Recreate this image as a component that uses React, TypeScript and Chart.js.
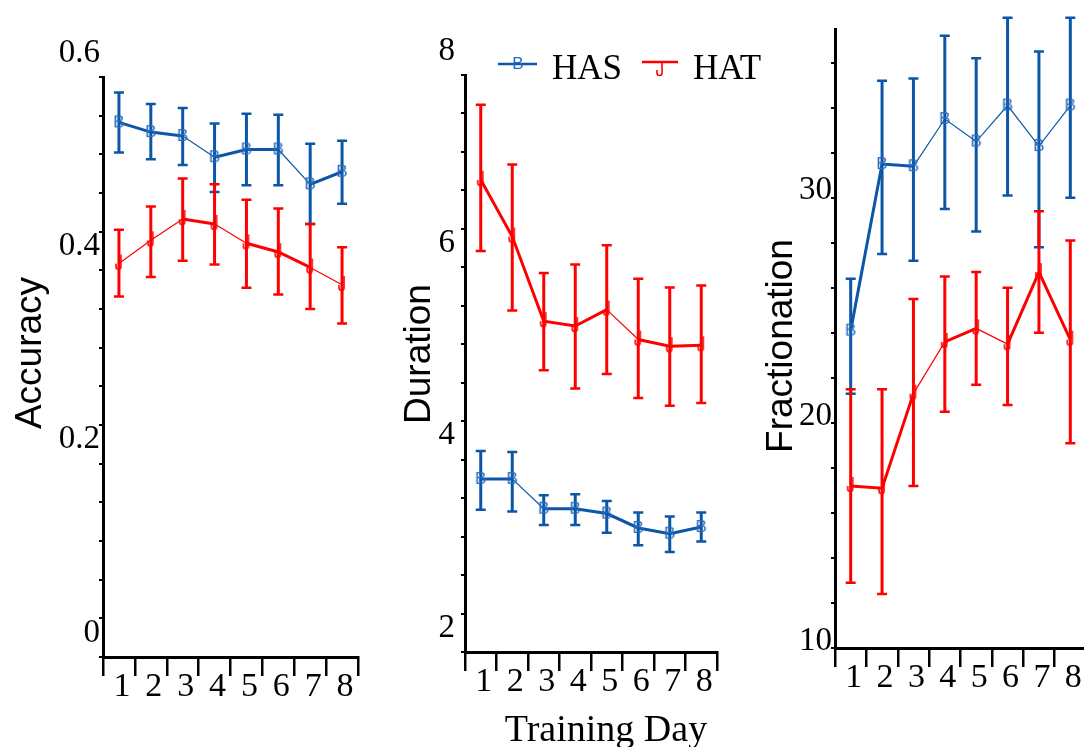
import React, { useEffect, useRef } from 'react';
import { Chart, registerables } from 'chart.js';

Chart.register(...registerables);

// ---------- data ----------
const days = ['1', '2', '3', '4', '5', '6', '7', '8'];

const accHAS = [0.553, 0.543, 0.539, 0.517, 0.525, 0.525, 0.489, 0.502];
const accHASLo = [0.522, 0.515, 0.509, 0.481, 0.488, 0.488, 0.448, 0.469];
const accHASHi = [0.584, 0.572, 0.568, 0.552, 0.562, 0.561, 0.531, 0.534];
const accHAT = [0.407, 0.431, 0.453, 0.448, 0.428, 0.419, 0.403, 0.385];
const accHATLo = [0.373, 0.393, 0.41, 0.406, 0.382, 0.375, 0.36, 0.345];
const accHATHi = [0.442, 0.466, 0.495, 0.489, 0.473, 0.464, 0.448, 0.424];

const durHAS = [3.8, 3.8, 3.49, 3.49, 3.44, 3.29, 3.23, 3.3];
const durHASLo = [3.48, 3.46, 3.32, 3.32, 3.24, 3.11, 3.04, 3.15];
const durHASHi = [4.09, 4.08, 3.63, 3.64, 3.57, 3.45, 3.41, 3.45];
const durHAT = [6.91, 6.32, 5.44, 5.39, 5.56, 5.25, 5.18, 5.19];
const durHATLo = [6.17, 5.55, 4.93, 4.74, 4.89, 4.64, 4.56, 4.59];
const durHATHi = [7.69, 7.07, 5.94, 6.03, 6.23, 5.88, 5.79, 5.81];

const fracHAS = [24.1, 31.5, 31.4, 33.5, 32.5, 34.1, 32.3, 34.1];
const fracHASLo = [21.3, 27.5, 27.2, 29.5, 28.5, 30.1, 27.8, 30.0];
const fracHASHi = [26.4, 35.2, 35.3, 37.2, 36.2, 38.0, 36.5, 38.0];
const fracHAT = [17.2, 17.1, 21.3, 23.6, 24.2, 23.5, 26.7, 23.7];
const fracHATLo = [12.9, 12.4, 17.2, 20.5, 21.7, 20.8, 24.0, 19.1];
const fracHATHi = [21.5, 21.5, 25.5, 26.5, 26.7, 26.0, 29.4, 28.1];

// ---------- styles ----------
const BLUE = '#0b56a6';
const RED = '#ff0000';
const TK = 3; // thick segment
const TN = 1.2; // thin segment
const accHASw = [TK, TK, TN, TK, TK, TN, TK];
const accHATw = [TN, TN, TK, TN, TK, TK, TN];
const durHASw = [TK, TN, TK, TK, TK, TK, TK];
const durHATw = [TK, TK, TK, TK, TN, TK, TK];
const fracHASw = [TK, TK, TN, TN, TN, TN, TN];
const fracHATw = [TK, TK, TN, TK, TN, TK, TK];

function makeB(): HTMLCanvasElement {
  const c = document.createElement('canvas');
  c.width = 16;
  c.height = 18;
  const g = c.getContext('2d')!;
  g.fillStyle = '#2a6bbf';
  g.font = '17px "Liberation Sans"';
  g.textAlign = 'center';
  g.textBaseline = 'middle';
  g.fillText('B', 8, 9.5);
  return c;
}

function makeHook(): HTMLCanvasElement {
  const c = document.createElement('canvas');
  c.width = 12;
  c.height = 20;
  const g = c.getContext('2d')!;
  g.strokeStyle = RED;
  g.lineWidth = 1.6;
  g.beginPath();
  g.moveTo(8, 1);
  g.lineTo(8, 13);
  g.arc(5.5, 13, 2.5, 0, Math.PI, false);
  g.lineTo(3, 10);
  g.stroke();
  return c;
}

const errorBars = {
  id: 'errorBars',
  beforeDatasetsDraw(chart: any) {
    const ctx = chart.ctx;
    const ys = chart.scales.y;
    chart.data.datasets.forEach((ds: any, i: number) => {
      const meta = chart.getDatasetMeta(i);
      meta.data.forEach((pt: any, j: number) => {
        const x = pt.x;
        const yl = ys.getPixelForValue(ds.errLo[j]);
        const yh = ys.getPixelForValue(ds.errHi[j]);
        ctx.save();
        ctx.strokeStyle = ds.borderColor;
        ctx.lineWidth = 3;
        ctx.beginPath();
        ctx.moveTo(x, yh);
        ctx.lineTo(x, yl);
        ctx.stroke();
        ctx.lineWidth = 2.5;
        ctx.beginPath();
        ctx.moveTo(x - 5, yh);
        ctx.lineTo(x + 5, yh);
        ctx.moveTo(x - 5, yl);
        ctx.lineTo(x + 5, yl);
        ctx.stroke();
        ctx.restore();
      });
    });
  },
};

function decor(p: any, imgB: HTMLCanvasElement, imgH: HTMLCanvasElement) {
  return {
    id: 'decor',
    afterDraw(chart: any) {
      const ctx = chart.ctx;
      ctx.save();
      ctx.fillStyle = '#000';
      ctx.font = '37px "Liberation Sans"';
      ctx.textAlign = 'center';
      ctx.textBaseline = 'alphabetic';
      ctx.translate(p.titleX, p.titleY);
      ctx.rotate(-Math.PI / 2);
      ctx.fillText(p.title, 0, 0);
      ctx.restore();
      if (p.xTitle) {
        ctx.save();
        ctx.fillStyle = '#000';
        ctx.font = '38px "Liberation Serif"';
        ctx.textAlign = 'center';
        ctx.textBaseline = 'alphabetic';
        ctx.fillText(p.xTitle, p.xTitleX, p.xTitleY);
        ctx.restore();
      }
      if (p.legend) {
        const L = p.legend;
        ctx.save();
        ctx.lineWidth = 2.5;
        ctx.strokeStyle = BLUE;
        ctx.beginPath();
        ctx.moveTo(L.x1, L.y1);
        ctx.lineTo(L.x1 + 39, L.y1);
        ctx.stroke();
        ctx.drawImage(imgB, L.x1 + 20 - imgB.width / 2, L.y1 - imgB.height / 2);
        ctx.strokeStyle = RED;
        ctx.beginPath();
        ctx.moveTo(L.x2, L.y2);
        ctx.lineTo(L.x2 + 36, L.y2);
        ctx.stroke();
        ctx.drawImage(imgH, L.x2 + 18 - imgH.width / 2, L.y2 - 2);
        ctx.fillStyle = '#000';
        ctx.font = '35px "Liberation Serif"';
        ctx.textAlign = 'left';
        ctx.textBaseline = 'alphabetic';
        ctx.fillText('HAS', L.t1, L.ty);
        ctx.fillText('HAT', L.t2, L.ty);
        ctx.restore();
      }
    },
  };
}

function buildConfig(p: any, imgB: HTMLCanvasElement, imgH: HTMLCanvasElement): any {
  return {
    type: 'line',
    data: {
      labels: days,
      datasets: [
        {
          label: 'HAS',
          data: p.has,
          errLo: p.hasLo,
          errHi: p.hasHi,
          borderColor: BLUE,
          backgroundColor: BLUE,
          pointStyle: imgB,
          pointRadius: 7,
          borderWidth: 2,
          segment: { borderWidth: (c: any) => p.hasW[c.p0DataIndex] },
          clip: false,
        },
        {
          label: 'HAT',
          data: p.hat,
          errLo: p.hatLo,
          errHi: p.hatHi,
          borderColor: RED,
          backgroundColor: RED,
          pointStyle: imgH,
          pointRadius: 7,
          borderWidth: 2,
          segment: { borderWidth: (c: any) => p.hatW[c.p0DataIndex] },
          clip: false,
        },
      ],
    },
    options: {
      responsive: false,
      animation: false,
      devicePixelRatio: 1,
      events: [],
      layout: { padding: { top: p.padTop, right: p.padRight, left: 0, bottom: 0 } },
      plugins: { legend: { display: false }, tooltip: { enabled: false } },
      scales: {
        x: {
          type: 'category',
          offset: true,
          grid: {
            offset: true,
            drawOnChartArea: false,
            tickLength: 19,
            lineWidth: 2.5,
            color: '#000',
          },
          border: { display: true, width: 3, color: '#000' },
          ticks: {
            font: { family: 'Liberation Serif', size: 34 },
            color: '#000',
            padding: -9,
            labelOffset: 3,
            maxRotation: 0,
            autoSkip: false,
          },
          afterFit: (s: any) => {
            s.height = p.xh;
          },
        },
        y: {
          type: 'linear',
          min: p.min,
          max: p.max,
          grid: { drawOnChartArea: false, tickLength: 4, lineWidth: 2, color: '#000' },
          border: { display: true, width: 3, color: '#000' },
          ticks: {
            stepSize: p.step,
            includeBounds: false,
            autoSkip: false,
            font: { family: 'Liberation Serif', size: 33 },
            color: '#000',
            padding: p.yPad,
            labelOffset: p.labelOffset,
            callback: (v: number) => {
              const r = v / p.every;
              if (Math.abs(r - Math.round(r)) < 1e-6) {
                return String(Math.round(r * p.every * 100) / 100);
              }
              return '';
            },
          },
          afterFit: (s: any) => {
            s.width = p.yw;
          },
        },
      },
    },
    plugins: [errorBars, decor(p, imgB, imgH)],
  };
}

const panel1 = {
  has: accHAS, hasLo: accHASLo, hasHi: accHASHi, hasW: accHASw,
  hat: accHAT, hatLo: accHATLo, hatHi: accHATHi, hatW: accHATw,
  yw: 103, padTop: 77, padRight: 12, xh: 90,
  min: 0, max: 0.6, step: 0.04, every: 0.2, labelOffset: -24, yPad: -1,
  title: 'Accuracy', titleX: 41, titleY: 353,
};

const panel2 = {
  has: durHAS, hasLo: durHASLo, hasHi: durHASHi, hasW: durHASw,
  hat: durHAT, hatLo: durHATLo, hatHi: durHATHi, hatW: durHATw,
  yw: 85, padTop: 75, padRight: 63, xh: 95,
  min: 2, max: 8, step: 0.4, every: 2, labelOffset: -24, yPad: 6,
  title: 'Duration', titleX: 50, titleY: 354,
  xTitle: 'Training Day', xTitleX: 226, xTitleY: 741,
  legend: { x1: 118, y1: 64, x2: 262, y2: 62, t1: 172, t2: 313, ty: 79 },
};

const panel3 = {
  has: fracHAS, hasLo: fracHASLo, hasHi: fracHASHi, hasW: fracHASw,
  hat: fracHAT, hatLo: fracHATLo, hatHi: fracHATHi, hatW: fracHATw,
  yw: 95, padTop: 29, padRight: 14, xh: 99,
  min: 10, max: 37.5, step: 2, every: 10, labelOffset: -7, yPad: -1,
  title: 'Fractionation', titleX: 52, titleY: 346,
};

export default function App() {
  const r1 = useRef<HTMLCanvasElement>(null);
  const r2 = useRef<HTMLCanvasElement>(null);
  const r3 = useRef<HTMLCanvasElement>(null);

  useEffect(() => {
    const imgB = makeB();
    const imgH = makeHook();
    const charts = [
      new Chart(r1.current as HTMLCanvasElement, buildConfig(panel1, imgB, imgH)),
      new Chart(r2.current as HTMLCanvasElement, buildConfig(panel2, imgB, imgH)),
      new Chart(r3.current as HTMLCanvasElement, buildConfig(panel3, imgB, imgH)),
    ];
    return () => charts.forEach((c) => c.destroy());
  }, []);

  return (
    <div
      style={{
        position: 'absolute',
        left: 0,
        top: 0,
        width: 1084,
        height: 747,
        overflow: 'hidden',
        background: '#fff',
      }}
    >
      <canvas ref={r1} width={370} height={747} style={{ position: 'absolute', left: 0, top: 0 }} />
      <canvas ref={r2} width={400} height={747} style={{ position: 'absolute', left: 380, top: 0 }} />
      <canvas ref={r3} width={360} height={747} style={{ position: 'absolute', left: 740, top: 0 }} />
    </div>
  );
}
